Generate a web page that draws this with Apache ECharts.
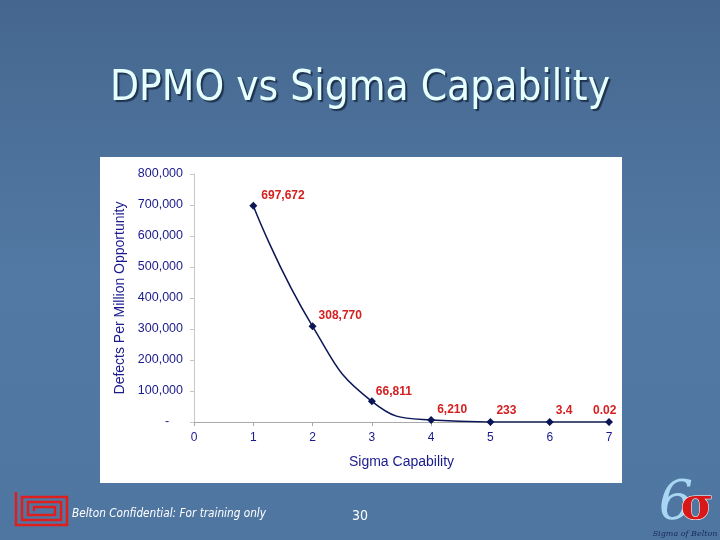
<!DOCTYPE html>
<html><head><meta charset="utf-8">
<script src="https://cdn.jsdelivr.net/npm/echarts@6/dist/echarts.min.js"></script>
<style>html,body{margin:0;padding:0;}#c{width:720px;height:540px;}</style>
</head><body><div id="c"></div>
<script>
const sigmaLevels = [1, 2, 3, 4, 5, 6, 7];
const dpmoValues = [697672, 308770, 66811, 6210, 233, 3.4, 0.02];
const yTickLabels = ['-    ', '100,000', '200,000', '300,000', '400,000', '500,000', '600,000', '700,000', '800,000'];

function fmt(v) {
  if (v >= 1000) return String(Math.round(v)).replace(/\B(?=(\d{3})+(?!\d))/g, ',');
  return String(v);
}

const chart = echarts.init(document.getElementById('c'));
const labelOffsets = [[2,-10],[0,-11],[-2,-10],[0,-10],[0,-11],[0,-11],[-22,-11]];
const data = sigmaLevels.map((x, i) => ({
  value: [x, dpmoValues[i]],
  label: { offset: labelOffsets[i] }
}));

chart.setOption({
  animation: false,
  graphic: [
    { type: 'rect', z: -10, shape: { x: 0, y: 0, width: 720, height: 540 },
      style: { fill: new echarts.graphic.LinearGradient(0, 0, 0, 1, [
        { offset: 0, color: '#45678f' }, { offset: 0.5, color: '#5279a3' }, { offset: 1, color: '#4f76a0' }]) } },
    { type: 'rect', z: -5, shape: { x: 100, y: 157, width: 522, height: 326 }, style: { fill: '#ffffff' } },
    { type: 'text', x: 360, y: 89, z: 10, style: { text: 'DPMO vs Sigma Capability', font: '42px "DejaVu Sans Condensed", "DejaVu Sans"', fill: '#e6ffff', align: 'center', verticalAlign: 'middle', textShadowColor: 'rgba(20,35,60,0.8)', textShadowOffsetX: 2, textShadowOffsetY: 2, textShadowBlur: 1 } },
    { type: 'text', x: 72, y: 514, style: { text: 'Belton Confidential: For training only', font: 'italic 11.7px "DejaVu Sans Condensed", "DejaVu Sans"', fill: '#ffffff', verticalAlign: 'middle' } },
    { type: 'text', x: 360, y: 516, style: { text: '30', font: '14px "DejaVu Sans Condensed", "DejaVu Sans"', fill: '#ffffff', align: 'center', verticalAlign: 'middle' } },
    { type: 'polyline', shape: { points: [[16,492],[16,525],[67,525],[67,497],[22,497],[22,520],[61,520],[61,502],[28,502],[28,515],[55,515],[55,507],[34,507],[34,511]] }, style: { stroke: '#e01e1e', lineWidth: 2.5, fill: null } },
    { type: 'text', x: 676, y: 505, style: { text: '6', font: 'italic 54px "DejaVu Serif"', fill: '#a9d6f2', align: 'center', verticalAlign: 'middle' } },
    { type: 'text', x: 697, y: 508, style: { text: 'σ', font: 'bold 44px "DejaVu Serif"', fill: '#d81818', align: 'center', verticalAlign: 'middle', stroke: '#ffffff', lineWidth: 1 } },
    { type: 'text', x: 685, y: 534, style: { text: 'Sigma of Belton', font: 'italic 8px "DejaVu Serif"', fill: '#1a2a5a', align: 'center', verticalAlign: 'middle' } }
  ],
  grid: { left: 194, right: 111, top: 174, bottom: 118, containLabel: false },
  xAxis: {
    type: 'value', min: 0, max: 7, interval: 1,
    name: 'Sigma Capability', nameLocation: 'middle', nameGap: 33,
    nameTextStyle: { color: '#1a1a8c', fontSize: 14, fontFamily: 'Liberation Sans' },
    axisLine: { show: true, onZero: false, lineStyle: { color: '#a8a8a8', width: 1 } },
    axisTick: { show: true, length: 4, lineStyle: { color: '#a8a8a8' } },
    axisLabel: { color: '#1a1a8c', fontSize: 12, fontFamily: 'Liberation Sans', margin: 10 },
    splitLine: { show: false }
  },
  yAxis: {
    type: 'value', min: 0, max: 800000, interval: 100000,
    name: 'Defects Per Million Opportunity', nameLocation: 'middle', nameGap: 67, nameRotate: 90,
    nameTextStyle: { color: '#1a1a8c', fontSize: 14, fontFamily: 'Liberation Sans' },
    axisLine: { show: true, lineStyle: { color: '#c8c8c8', width: 1 } },
    axisTick: { show: true, length: 4, lineStyle: { color: '#c8c8c8' } },
    axisLabel: { color: '#1a1a8c', fontSize: 12.5, fontFamily: 'Liberation Sans', margin: 11,
      formatter: (v) => yTickLabels[Math.round(v / 100000)] },
    splitLine: { show: false }
  },
  series: [{
    type: 'line', data: data, smooth: 0.5,
    symbol: 'diamond', symbolSize: 8,
    lineStyle: { color: '#0b1656', width: 1.5 },
    itemStyle: { color: '#0b1656' },
    label: { show: true, position: 'right', distance: 2, align: 'left', color: '#d42020', fontWeight: 'bold', fontSize: 12, fontFamily: 'Liberation Sans',
      formatter: (p) => fmt(p.value[1]) }
  }]
});
</script></body></html>
